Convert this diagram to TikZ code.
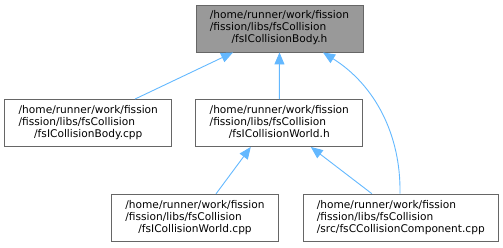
\documentclass[tikz,border=0pt]{standalone}
\usepackage{fontspec}
\setmainfont{DejaVu Sans}
\usetikzlibrary{arrows.meta}
\definecolor{edgeblue}{HTML}{63B8FF}
\definecolor{boxborder}{HTML}{666666}
\definecolor{boxfill}{HTML}{999999}
\newcommand{\flbl}[3]{\begin{tabular}{@{}l@{}}#1\\#2\\\multicolumn{1}{@{}c@{}}{#3}\end{tabular}}
\tikzset{
  filebox/.style={draw=boxborder, fill=white, line width=0.9pt, minimum height=47pt, inner sep=0pt,
    font=\fontsize{10.6}{12}\selectfont},
  curbox/.style={filebox, fill=boxfill},
  dep/.style={draw=edgeblue, line width=0.9pt, -{Triangle[length=12pt,width=10pt]}},
}
\begin{document}
\begin{tikzpicture}[x=1pt,y=-1pt]
\useasboundingbox (0,0) rectangle (503,247);
\node[curbox, minimum width=167pt] (body) at (279.5,28.5) {\flbl{/home/runner/work/fission}{/fission/libs/fsCollision}{/fsICollisionBody.h}};
\node[filebox, minimum width=167pt] (bodycpp) at (88.3,123) {\flbl{/home/runner/work/fission}{/fission/libs/fsCollision}{/fsICollisionBody.cpp}};
\node[filebox, minimum width=167pt] (world) at (279.3,123) {\flbl{/home/runner/work/fission}{/fission/libs/fsCollision}{/fsICollisionWorld.h}};
\node[filebox, minimum width=166.6pt] (worldcpp) at (195,217.8) {\flbl{/home/runner/work/fission}{/fission/libs/fsCollision}{/fsICollisionWorld.cpp}};
\node[filebox, minimum width=195pt] (comp) at (400.8,217.6) {\flbl{/home/runner/work/fission}{/fission/libs/fsCollision}{/src/fsCCollisionComponent.cpp}};
\draw[dep] ([xshift=46.7pt]bodycpp.north) -- ([xshift=-46.5pt]body.south);
\draw[dep] (world.north) -- (body.south);
\draw[dep] ([xshift=-0.8pt]comp.north) .. controls (401,135) and (375,85) .. ([xshift=43.5pt]body.south);
\draw[dep] ([xshift=21pt]worldcpp.north) -- ([xshift=-28.5pt]world.south);
\draw[dep] ([xshift=-29pt]comp.north) -- ([xshift=31.5pt]world.south);
\end{tikzpicture}
\end{document}
